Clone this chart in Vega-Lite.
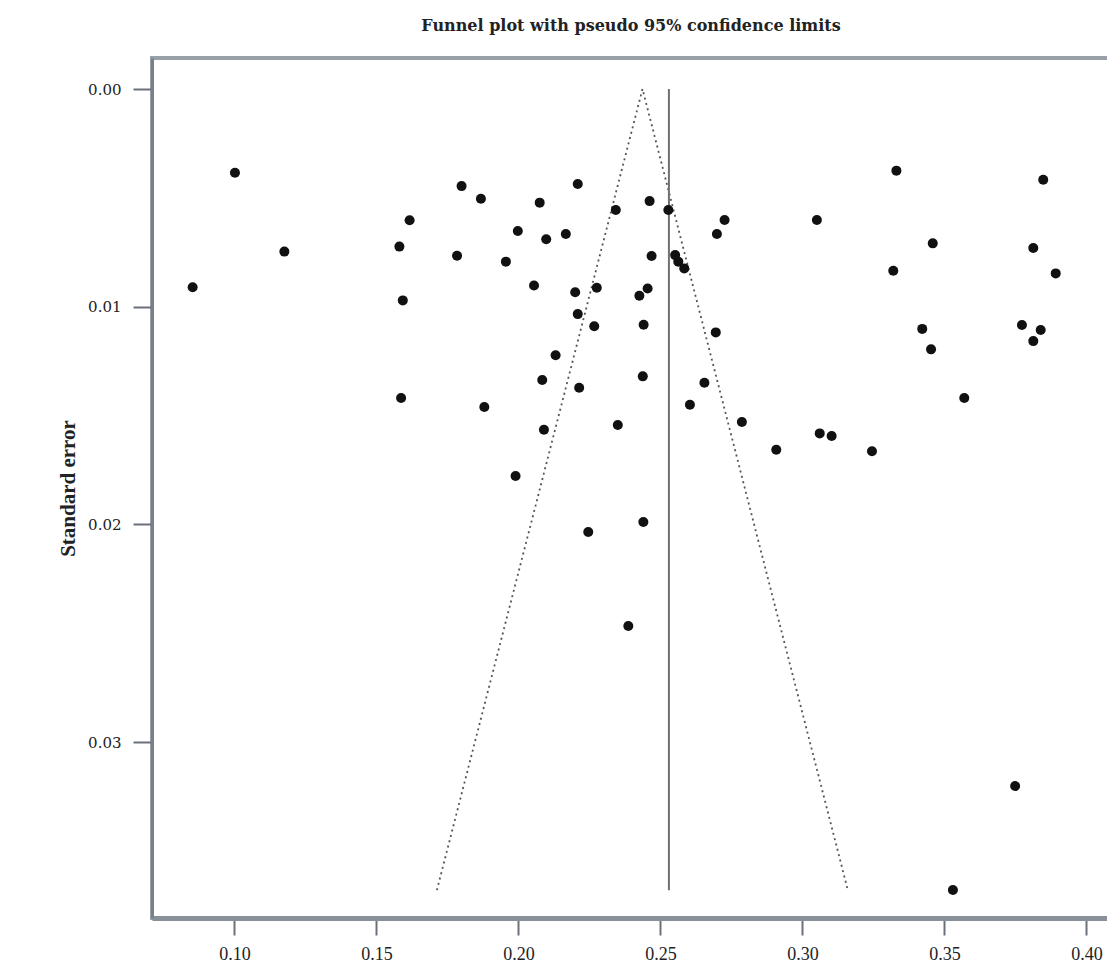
{
  "$schema": "https://vega.github.io/schema/vega-lite/v6.json",
  "autosize": {"type": "none"},
  "padding": {"left": 152, "top": 58, "right": 0, "bottom": 51},
  "width": 958,
  "height": 860,
  "background": "white",
  "title": {
    "text": "Funnel plot with pseudo 95% confidence limits",
    "font": "DejaVu Serif",
    "fontSize": 16,
    "fontWeight": "bold",
    "color": "#222",
    "anchor": "middle",
    "offset": 24
  },
  "config": {
    "view": {"stroke": "#9aa0a8", "strokeWidth": 4},
    "axis": {"grid": false}
  },
  "datasets": {
    "studies": [
      {"effect": 0.1002, "se": 0.00385},
      {"effect": 0.1176, "se": 0.00747},
      {"effect": 0.0853, "se": 0.00911},
      {"effect": 0.1800, "se": 0.00446},
      {"effect": 0.1868, "se": 0.00504},
      {"effect": 0.1617, "se": 0.00603},
      {"effect": 0.1581, "se": 0.00724},
      {"effect": 0.1784, "se": 0.00766},
      {"effect": 0.1998, "se": 0.00652},
      {"effect": 0.1956, "se": 0.00793},
      {"effect": 0.2055, "se": 0.00903},
      {"effect": 0.1593, "se": 0.00971},
      {"effect": 0.2075, "se": 0.00522},
      {"effect": 0.2209, "se": 0.00436},
      {"effect": 0.2098, "se": 0.00690},
      {"effect": 0.2167, "se": 0.00666},
      {"effect": 0.2343, "se": 0.00556},
      {"effect": 0.2462, "se": 0.00515},
      {"effect": 0.2528, "se": 0.00556},
      {"effect": 0.2726, "se": 0.00602},
      {"effect": 0.2699, "se": 0.00666},
      {"effect": 0.3051, "se": 0.00602},
      {"effect": 0.2469, "se": 0.00767},
      {"effect": 0.2552, "se": 0.00763},
      {"effect": 0.2563, "se": 0.00793},
      {"effect": 0.2584, "se": 0.00824},
      {"effect": 0.2200, "se": 0.00934},
      {"effect": 0.2276, "se": 0.00913},
      {"effect": 0.2455, "se": 0.00916},
      {"effect": 0.2426, "se": 0.00950},
      {"effect": 0.2209, "se": 0.01034},
      {"effect": 0.2267, "se": 0.01090},
      {"effect": 0.2131, "se": 0.01223},
      {"effect": 0.2084, "se": 0.01337},
      {"effect": 0.2214, "se": 0.01372},
      {"effect": 0.1587, "se": 0.01419},
      {"effect": 0.1880, "se": 0.01461},
      {"effect": 0.2090, "se": 0.01565},
      {"effect": 0.2350, "se": 0.01543},
      {"effect": 0.1990, "se": 0.01778},
      {"effect": 0.2246, "se": 0.02035},
      {"effect": 0.2387, "se": 0.02467},
      {"effect": 0.2441, "se": 0.01083},
      {"effect": 0.2695, "se": 0.01118},
      {"effect": 0.2438, "se": 0.01320},
      {"effect": 0.2655, "se": 0.01349},
      {"effect": 0.2604, "se": 0.01450},
      {"effect": 0.2787, "se": 0.01530},
      {"effect": 0.2908, "se": 0.01657},
      {"effect": 0.3061, "se": 0.01582},
      {"effect": 0.3103, "se": 0.01594},
      {"effect": 0.3245, "se": 0.01664},
      {"effect": 0.3422, "se": 0.01102},
      {"effect": 0.3453, "se": 0.01196},
      {"effect": 0.3570, "se": 0.01419},
      {"effect": 0.3773, "se": 0.01084},
      {"effect": 0.3839, "se": 0.01107},
      {"effect": 0.3813, "se": 0.01158},
      {"effect": 0.2440, "se": 0.01989},
      {"effect": 0.3331, "se": 0.00375},
      {"effect": 0.3848, "se": 0.00417},
      {"effect": 0.3459, "se": 0.00709},
      {"effect": 0.3320, "se": 0.00835},
      {"effect": 0.3813, "se": 0.00730},
      {"effect": 0.3892, "se": 0.00847},
      {"effect": 0.3749, "se": 0.03202},
      {"effect": 0.3530, "se": 0.03679}
    ],
    "funnel": [
      {"effect": 0.1713, "se": 0.0368, "ord": 1},
      {"effect": 0.2437, "se": 0.0, "ord": 2},
      {"effect": 0.3160, "se": 0.0368, "ord": 3}
    ],
    "pooled": [
      {"effect": 0.2530, "se_top": 0.0, "se_bottom": 0.0368}
    ]
  },
  "layer": [
    {
      "data": {"name": "funnel"},
      "mark": {"type": "line", "color": "#555", "strokeWidth": 1.8, "strokeDash": [2, 3.5]},
      "encoding": {
        "x": {
          "field": "effect", "type": "quantitative",
          "scale": {"domain": [0.07099, 0.40831], "nice": false, "zero": false},
          "axis": {
            "values": [0.10, 0.15, 0.20, 0.25, 0.30, 0.35, 0.40],
            "format": ".2f",
            "title": null,
            "domainColor": "#8a9099", "domainWidth": 5,
            "tickColor": "#6a7078", "tickWidth": 2, "tickSize": 17,
            "labelFont": "Liberation Serif", "labelFontSize": 18, "labelColor": "#222",
            "labelPadding": 10
          }
        },
        "y": {
          "field": "se", "type": "quantitative",
          "scale": {"domain": [-0.001424, 0.03808], "nice": false, "zero": false, "reverse": true},
          "axis": {
            "values": [0.00, 0.01, 0.02, 0.03],
            "format": ".2f",
            "title": "Standard error",
            "titleFont": "Liberation Serif", "titleFontSize": 21, "titleFontWeight": "bold", "titleColor": "#222",
            "titlePadding": 9,
            "domainColor": "#7a8088", "domainWidth": 3,
            "tickColor": "#6a7078", "tickWidth": 2, "tickSize": 19,
            "labelFont": "DejaVu Serif", "labelFontSize": 15, "labelColor": "#222",
            "labelPadding": 12
          }
        },
        "order": {"field": "ord", "type": "quantitative"}
      }
    },
    {
      "data": {"name": "pooled"},
      "mark": {"type": "rule", "color": "#707070", "strokeWidth": 2},
      "encoding": {
        "x": {"field": "effect", "type": "quantitative"},
        "y": {"field": "se_top", "type": "quantitative"},
        "y2": {"field": "se_bottom"}
      }
    },
    {
      "data": {"name": "studies"},
      "mark": {"type": "circle", "color": "#111", "opacity": 1, "size": 100},
      "encoding": {
        "x": {"field": "effect", "type": "quantitative"},
        "y": {"field": "se", "type": "quantitative"}
      }
    }
  ]
}
